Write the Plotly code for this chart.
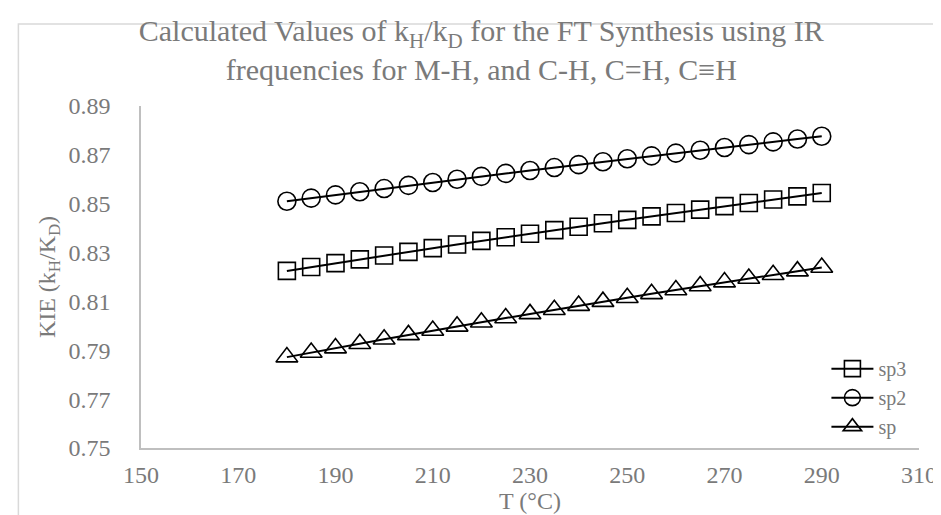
import plotly.graph_objects as go

temps = [180, 185, 190, 195, 200, 205, 210, 215, 220, 225, 230, 235,
         240, 245, 250, 255, 260, 265, 270, 275, 280, 285, 290]

sp3 = [0.8225, 0.8241, 0.8257, 0.8272, 0.8288, 0.8303, 0.8318, 0.8333,
       0.8348, 0.8363, 0.8377, 0.8392, 0.8406, 0.8420, 0.8434, 0.8448,
       0.8462, 0.8476, 0.8490, 0.8503, 0.8517, 0.8530, 0.8544]

sp2 = [0.8510, 0.8523, 0.8536, 0.8549, 0.8562, 0.8575, 0.8587, 0.8600,
       0.8612, 0.8624, 0.8636, 0.8648, 0.8660, 0.8672, 0.8684, 0.8696,
       0.8707, 0.8719, 0.8730, 0.8742, 0.8753, 0.8765, 0.8776]

sp = [0.7872, 0.7891, 0.7909, 0.7927, 0.7945, 0.7963, 0.7981, 0.7998,
      0.8015, 0.8032, 0.8049, 0.8066, 0.8083, 0.8099, 0.8115, 0.8131,
      0.8147, 0.8163, 0.8179, 0.8194, 0.8209, 0.8224, 0.8239]

x_ticks = [150, 170, 190, 210, 230, 250, 270, 290, 310]
y_ticks = [0.75, 0.77, 0.79, 0.81, 0.83, 0.85, 0.87, 0.89]

FONT = "Liberation Serif, Times New Roman, serif"
GREY = "#7a7a7a"

series = [("sp3", sp3, "square", 17),
          ("sp2", sp2, "circle", 18),
          ("sp", sp, "triangle-up", 19)]

fig = go.Figure()
for name, vals, sym, size in series:
    fig.add_trace(go.Scatter(
        x=temps, y=vals, name=name, mode="lines+markers",
        line=dict(color="black", width=2),
        marker=dict(symbol=sym, size=size, color="rgba(0,0,0,0)",
                    line=dict(color="black", width=1.6)),
    ))

fig.update_layout(
    width=941, height=515,
    margin=dict(l=133, r=21, t=98, b=75),
    paper_bgcolor="white", plot_bgcolor="white",
    font=dict(family=FONT, color=GREY, size=24),
    title=dict(
        text="Calculated Values of k<sub>H</sub>/k<sub>D</sub> for the FT Synthesis using IR<br>frequencies for M-H, and C-H, C=H, C≡H",
        x=0.503, xanchor="center", xref="container",
        y=0.935, yanchor="top", yref="container",
        font=dict(family=FONT, size=30, color=GREY),
    ),
    xaxis=dict(
        range=[150, 310], tickvals=x_ticks, ticktext=[str(v) for v in x_ticks],
        showgrid=False, zeroline=False, showline=True, linecolor="#bfbfbf",
        linewidth=1.5, ticks="", ticklabelstandoff=4,
        tickfont=dict(family=FONT, size=24, color=GREY),
        title=dict(text="T (°C)", standoff=0,
                   font=dict(family=FONT, size=24, color=GREY)),
    ),
    yaxis=dict(
        range=[0.75, 0.89], tickvals=y_ticks,
        ticktext=[f"{v:.2f}" for v in y_ticks],
        showgrid=False, zeroline=False, showline=True, linecolor="#bfbfbf",
        linewidth=1.5, ticks="", ticklabelstandoff=24,
        tickfont=dict(family=FONT, size=24, color=GREY),
        title=dict(text="KIE (k<sub>H</sub>/K<sub>D</sub>)", standoff=6,
                   font=dict(family=FONT, size=24, color=GREY)),
    ),
    legend=dict(
        x=0.881, y=0.289, xanchor="left", yanchor="top",
        bgcolor="rgba(0,0,0,0)", borderwidth=0,
        font=dict(family=FONT, size=20, color=GREY),
        itemwidth=42, tracegroupgap=0,
    ),
    showlegend=True,
    shapes=[dict(type="rect", xref="paper", yref="paper",
                 x0=-0.1576, x1=1.2, y0=-0.5, y1=1.24,
                 line=dict(color="#d9d9d9", width=1.5),
                 fillcolor="rgba(0,0,0,0)", layer="below")],
)

fig.write_html("out.html")
